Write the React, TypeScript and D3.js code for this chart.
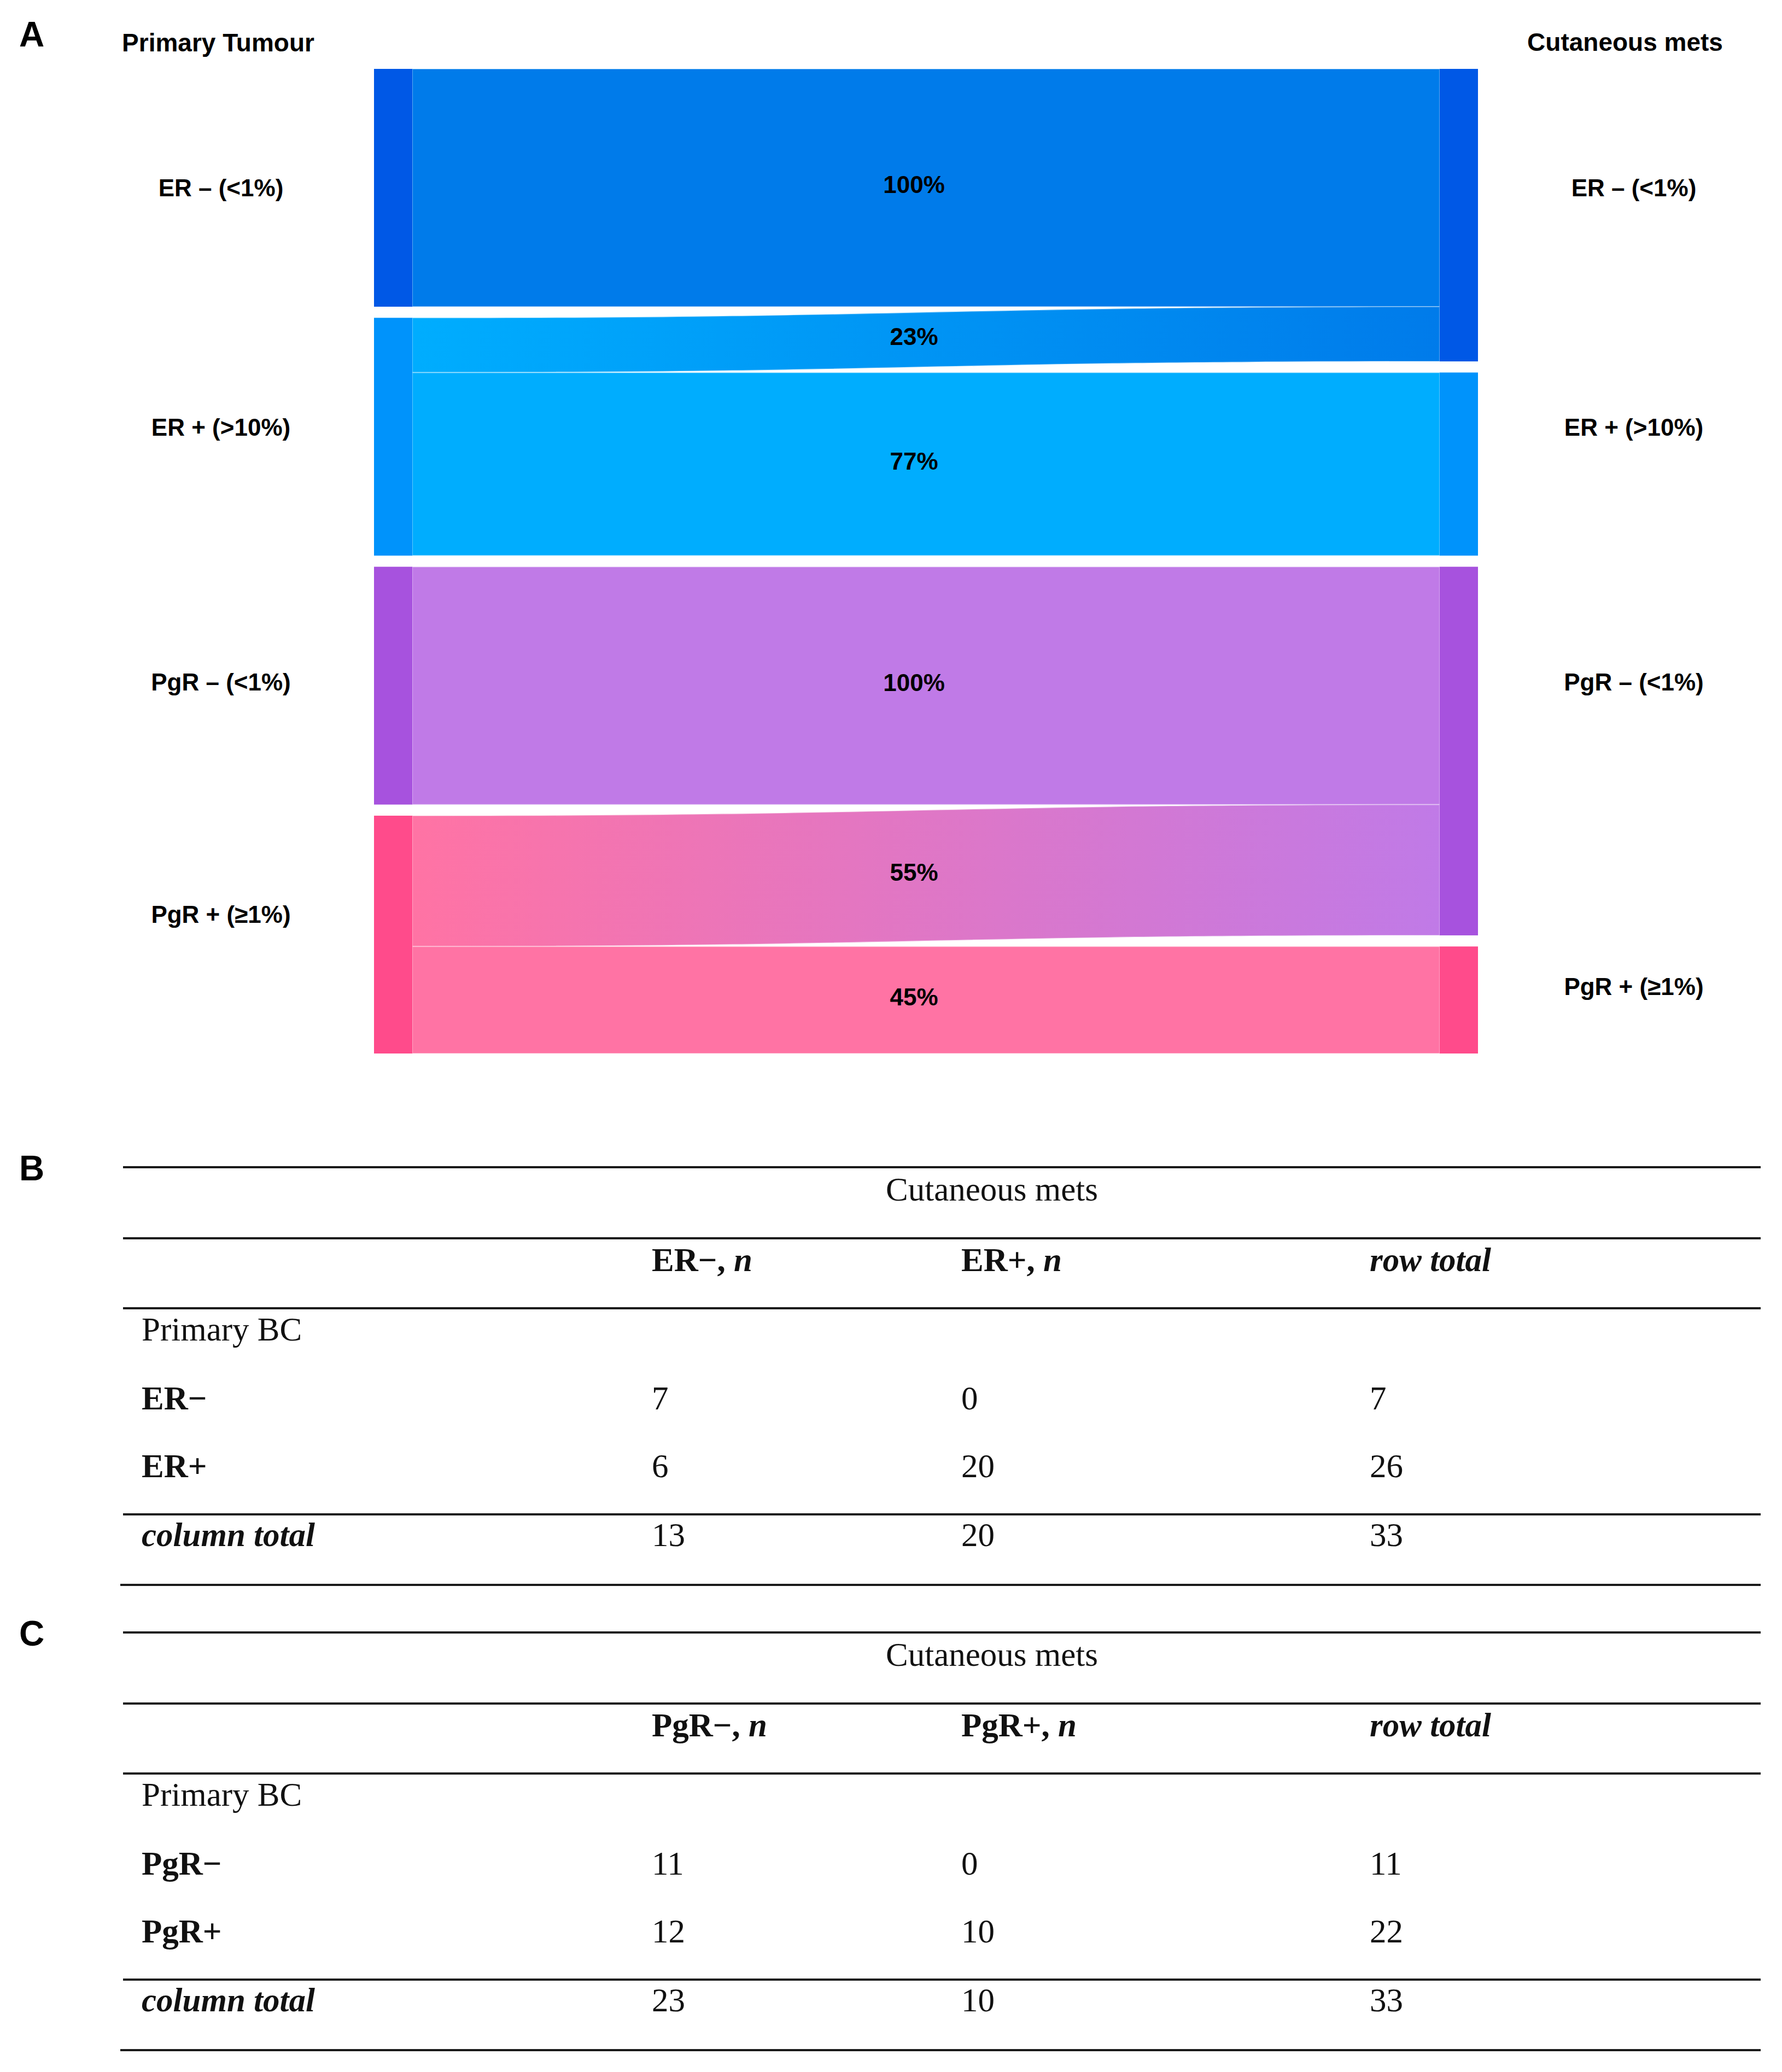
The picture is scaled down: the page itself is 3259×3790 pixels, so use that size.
import React from "react";
import * as d3 from "d3";

// ---------- Sankey data (percent of each primary-tumour group) ----------
const nodeNames = ["ER – (<1%)", "ER + (>10%)", "PgR – (<1%)", "PgR + (≥1%)"];
const nodeColors = ["#0058E6", "#0093FB", "#A752DE", "#FF4B8B"];
const flowColors = ["#007BEA", "#00ADFE", "#C07AE7", "#FF73A4"];
const linkSource = [0, 1, 1, 2, 3, 3];
const linkTarget = [0, 0, 1, 2, 2, 3];
const linkValue = [100, 23, 77, 100, 55, 45];
const linkLabels = ["100%", "23%", "77%", "100%", "55%", "45%"];
const columnTitles = ["Primary Tumour", "Cutaneous mets"];

// ---------- Table B (ER) ----------
const erHeaders = ["ER−", "ER+"];
const erRowLabels = ["ER−", "ER+"];
const erCounts = [
  [7, 0],
  [6, 20],
];
const erRowTotals = [7, 26];
const erColTotals = [13, 20, 33];

// ---------- Table C (PgR) ----------
const pgrHeaders = ["PgR−", "PgR+"];
const pgrRowLabels = ["PgR−", "PgR+"];
const pgrCounts = [
  [11, 0],
  [12, 10],
];
const pgrRowTotals = [11, 22];
const pgrColTotals = [23, 10, 33];

const tableTitle = "Cutaneous mets";
const panelLetters = ["A", "B", "C"];

const W = 3259;
const H = 3790;
const SANS = "'Liberation Sans', Arial, Helvetica, sans-serif";
const SERIF = "'Liberation Serif', 'Times New Roman', Times, serif";

function useSankey() {
  const top = 126;
  const bottom = 1927;
  const gap = 20.33;
  const nodeW = 70;
  const colX = d3.scaleLinear().domain([0, 1]).range([684, 2633]);
  const n = nodeNames.length;

  const leftVals = nodeNames.map((_, i) =>
    d3.sum(linkValue.filter((_, j) => linkSource[j] === i))
  );
  const rightVals = nodeNames.map((_, i) =>
    d3.sum(linkValue.filter((_, j) => linkTarget[j] === i))
  );
  const total = d3.sum(leftVals);
  const h = d3
    .scaleLinear()
    .domain([0, total])
    .range([0, bottom - top - gap * (n - 1)]);

  const stack = (vals: number[]) => {
    let y = top;
    return vals.map((v) => {
      const y0 = y;
      const y1 = y + h(v);
      y = y1 + gap;
      return { y0, y1 };
    });
  };
  const left = stack(leftVals);
  const right = stack(rightVals);

  const srcOff = left.map((d) => d.y0);
  const tgtOff = right.map((d) => d.y0);
  const idx = linkValue.map((_, i) => i);
  const links: any[] = idx.map((i) => ({ i }));
  nodeNames.forEach((_, s) => {
    idx
      .filter((i) => linkSource[i] === s)
      .sort((a, b) => linkTarget[a] - linkTarget[b])
      .forEach((i) => {
        links[i].sy0 = srcOff[s];
        links[i].sy1 = srcOff[s] + h(linkValue[i]);
        srcOff[s] = links[i].sy1;
      });
  });
  nodeNames.forEach((_, t) => {
    idx
      .filter((i) => linkTarget[i] === t)
      .sort((a, b) => linkSource[a] - linkSource[b])
      .forEach((i) => {
        links[i].ty0 = tgtOff[t];
        links[i].ty1 = tgtOff[t] + h(linkValue[i]);
        tgtOff[t] = links[i].ty1;
      });
  });
  const xs = colX(0) + nodeW;
  const xt = colX(1);
  const xm = (xs + xt) / 2;
  links.forEach((l) => {
    const p = d3.path();
    p.moveTo(xs, l.sy0);
    p.bezierCurveTo(xm, l.sy0, xm, l.ty0, xt, l.ty0);
    p.lineTo(xt, l.ty1);
    p.bezierCurveTo(xm, l.ty1, xm, l.sy1, xs, l.sy1);
    p.closePath();
    l.d = p.toString();
    l.midY = (l.sy0 + l.sy1 + l.ty0 + l.ty1) / 4;
  });
  return { left, right, links, colX, nodeW, xs, xt, xm };
}

function TableBlock({
  top,
  headers,
  rowLabels,
  counts,
  rowTotals,
  colTotals,
}: {
  top: number;
  headers: string[];
  rowLabels: string[];
  counts: number[][];
  rowTotals: number[];
  colTotals: number[];
}) {
  const fs = 61;
  const xLabel = 259;
  const colX = [1192, 1758, 2505];
  const rule = (y: number, x0 = 225) => (
    <line x1={x0} x2={3220} y1={y} y2={y} stroke="#1a1a1a" strokeWidth={4} />
  );
  const rowBase = [top + 443, top + 567];
  return (
    <g fontFamily={SERIF} fontSize={fs} fill="#111">
      {rule(top)}
      <text x={1814} y={top + 61} textAnchor="middle">
        {tableTitle}
      </text>
      {rule(top + 130)}
      {headers.map((hd, i) => (
        <text key={hd} x={colX[i]} y={top + 190} fontWeight="bold">
          {hd}, <tspan fontStyle="italic">n</tspan>
        </text>
      ))}
      <text x={colX[2]} y={top + 190} fontWeight="bold" fontStyle="italic">
        row total
      </text>
      {rule(top + 258)}
      <text x={xLabel} y={top + 317}>
        Primary BC
      </text>
      {rowLabels.map((rl, r) => (
        <g key={rl}>
          <text x={xLabel} y={rowBase[r]} fontWeight="bold">
            {rl}
          </text>
          {counts[r].map((v, c) => (
            <text key={c} x={colX[c]} y={rowBase[r]}>
              {v}
            </text>
          ))}
          <text x={colX[2]} y={rowBase[r]}>
            {rowTotals[r]}
          </text>
        </g>
      ))}
      {rule(top + 635)}
      <text x={xLabel} y={top + 693} fontWeight="bold" fontStyle="italic">
        column total
      </text>
      {colTotals.map((v, c) => (
        <text key={c} x={colX[c]} y={top + 693}>
          {v}
        </text>
      ))}
      {rule(top + 764, 220)}
    </g>
  );
}

export default function App() {
  const { left, right, links, colX, nodeW, xs, xt } = useSankey();
  const lblFs = 44;
  const capHalf = lblFs * 0.36;
  const leftCenters = left.map((d) => (d.y0 + d.y1) / 2);
  const rightCenters = right.map((d) => (d.y0 + d.y1) / 2);
  const leftDy = [0, -18, -7, -37];
  const leftLabelY = leftCenters.map((c, i) => c + leftDy[i]);
  const rightLabelY = [leftLabelY[0], leftLabelY[1], leftLabelY[2], rightCenters[3] - 25];
  const pctX = (xs + xt) / 2 - 22;

  return (
    <svg
      width={W}
      height={H}
      viewBox={`0 0 ${W} ${H}`}
      style={{ position: "absolute", left: 0, top: 0, display: "block", background: "#fff" }}
    >
      <rect x={0} y={0} width={W} height={H} fill="#fff" />
      <defs>
        {links.map((l) =>
          linkSource[l.i] !== linkTarget[l.i] ? (
            <linearGradient
              key={l.i}
              id={`lg${l.i}`}
              gradientUnits="userSpaceOnUse"
              x1={xs}
              x2={xt}
              y1={0}
              y2={0}
            >
              <stop offset="0%" stopColor={flowColors[linkSource[l.i]]} />
              <stop offset="100%" stopColor={flowColors[linkTarget[l.i]]} />
            </linearGradient>
          ) : null
        )}
      </defs>

      <g fontFamily={SANS} fontWeight="bold" fontSize={64} fill="#000">
        <text x={35} y={85}>{panelLetters[0]}</text>
        <text x={35} y={2159}>{panelLetters[1]}</text>
        <text x={35} y={3010}>{panelLetters[2]}</text>
      </g>

      <g fontFamily={SANS} fontWeight="bold" fontSize={46} fill="#000">
        <text x={399} y={94} textAnchor="middle">{columnTitles[0]}</text>
        <text x={2972} y={93} textAnchor="middle">{columnTitles[1]}</text>
      </g>

      {links.map((l) => (
        <path
          key={l.i}
          d={l.d}
          fill={
            linkSource[l.i] !== linkTarget[l.i]
              ? `url(#lg${l.i})`
              : flowColors[linkSource[l.i]]
          }
          stroke="rgba(255,255,255,0.35)"
          strokeWidth={2}
        />
      ))}

      {left.map((d, i) => (
        <rect key={`l${i}`} x={colX(0)} y={d.y0} width={nodeW} height={d.y1 - d.y0} fill={nodeColors[i]} />
      ))}
      {right.map((d, i) => (
        <rect key={`r${i}`} x={colX(1)} y={d.y0} width={nodeW} height={d.y1 - d.y0} fill={nodeColors[i]} />
      ))}

      <g fontFamily={SANS} fontWeight="bold" fontSize={lblFs} fill="#000">
        {links.map((l) => (
          <text key={l.i} x={pctX} y={l.midY + capHalf - 6} textAnchor="middle">
            {linkLabels[l.i]}
          </text>
        ))}
      </g>

      <g fontFamily={SANS} fontWeight="bold" fontSize={lblFs} fill="#000">
        {nodeNames.map((nm, i) => (
          <text key={`ln${i}`} x={404} y={leftLabelY[i] + capHalf} textAnchor="middle">
            {nm}
          </text>
        ))}
        {nodeNames.map((nm, i) => (
          <text key={`rn${i}`} x={2988} y={rightLabelY[i] + capHalf} textAnchor="middle">
            {nm}
          </text>
        ))}
      </g>

      <TableBlock
        top={2135}
        headers={erHeaders}
        rowLabels={erRowLabels}
        counts={erCounts}
        rowTotals={erRowTotals}
        colTotals={erColTotals}
      />
      <TableBlock
        top={2986}
        headers={pgrHeaders}
        rowLabels={pgrRowLabels}
        counts={pgrCounts}
        rowTotals={pgrRowTotals}
        colTotals={pgrColTotals}
      />
    </svg>
  );
}
